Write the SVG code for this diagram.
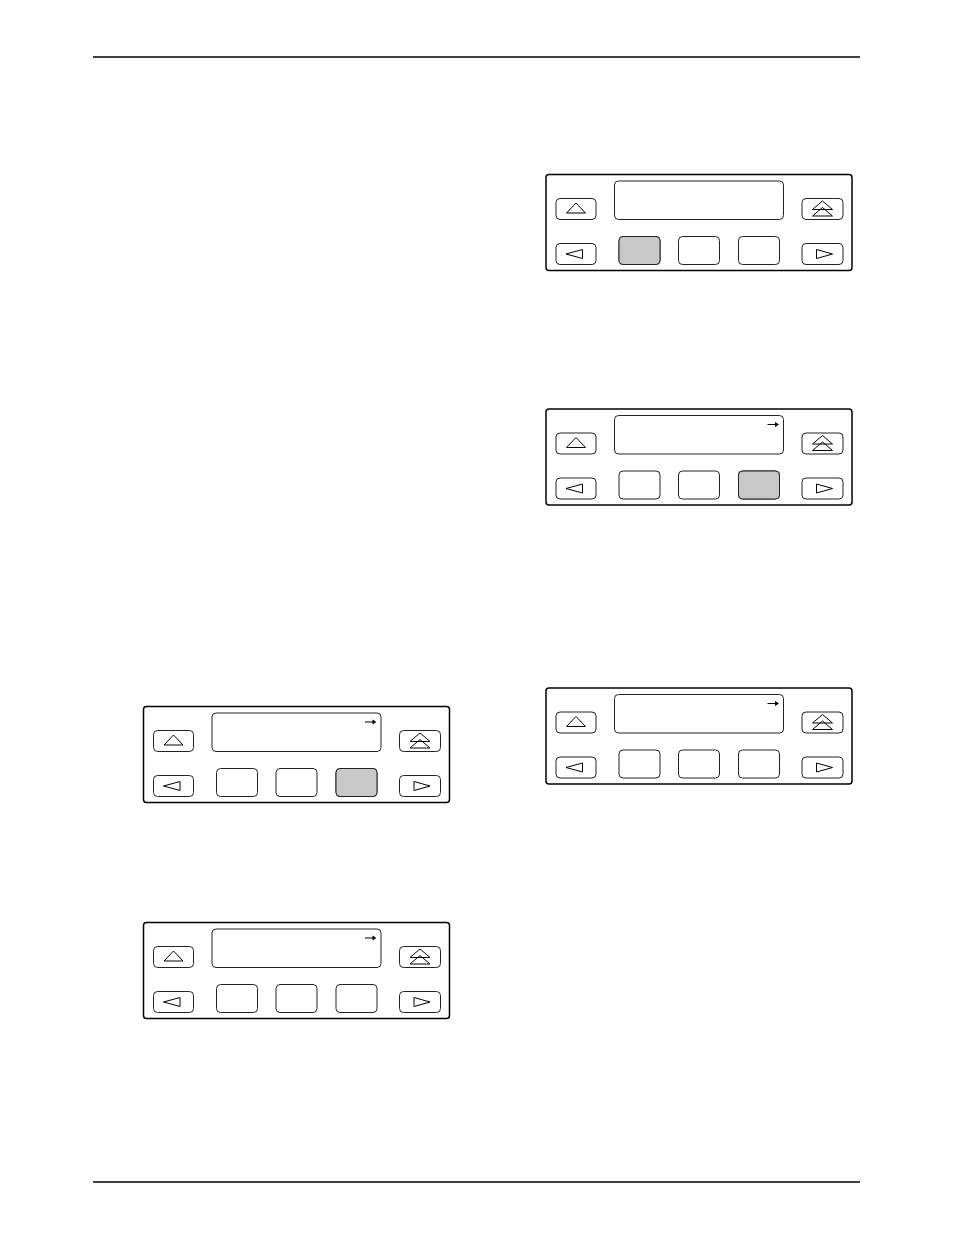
<svg xmlns="http://www.w3.org/2000/svg" xmlns:xlink="http://www.w3.org/1999/xlink" width="954" height="1235" viewBox="0 0 954 1235">
<style>
.bg{fill:#fff}
.outer{fill:#fff;stroke:#000;stroke-width:1.5}
.inner{fill:#fff;stroke:#222;stroke-width:1}
.hl{fill:#c8c8c8;stroke:#222;stroke-width:1}
.tri{fill:none;stroke:#000;stroke-width:1}
.rule{stroke:#000;stroke-width:1.3}
</style>
<defs>
<g id="panel">
<rect class="outer" x="0" y="0" width="306" height="96" rx="3"/>
<rect class="inner" x="68.5" y="6.5" width="169" height="38.5" rx="4"/>
<rect class="inner" x="10" y="24" width="40" height="21" rx="4"/>
<rect class="inner" x="10" y="69" width="40" height="21" rx="4"/>
<rect class="inner" x="256" y="24" width="41" height="21" rx="4"/>
<rect class="inner" x="256" y="69" width="41" height="21" rx="4"/>
<path class="tri" d="M20.5,38.5 L30,28.5 L39.5,38.5 Z"/>
<path class="tri" d="M266.5,35 L276.5,26.5 L286.5,35 Z M266.5,41.5 L276.5,33 L286.5,41.5 Z"/>
<path class="tri" d="M20,79.5 L36.5,75 L36.5,84 Z"/>
<path class="tri" d="M270.5,75 L286.5,79.5 L270.5,84 Z"/>
</g>
<g id="keys">
<rect class="inner" x="73" y="62" width="41" height="28" rx="4"/>
<rect class="inner" x="132.5" y="62" width="41" height="28" rx="4"/>
<rect class="inner" x="192.5" y="62" width="41" height="28" rx="4"/>
</g>
<g id="arrow">
<path d="M221.5,15.5 H230" stroke="#000" stroke-width="1" fill="none"/>
<path d="M229,13 L233,15.5 L229,18 Z" fill="#000"/>
</g>
</defs>
<rect class="bg" x="0" y="0" width="954" height="1235"/>
<g id="rules">
<line class="rule" x1="93" y1="57" x2="860" y2="57"/>
<line class="rule" x1="93" y1="1182" x2="860" y2="1182"/>
</g>
<g id="panel1" transform="translate(546,174.5)">
<use xlink:href="#panel"/>
<use xlink:href="#keys"/>
<rect class="hl" x="73" y="62" width="41" height="28" rx="4"/>
</g>
<g id="panel2" transform="translate(546,409)">
<use xlink:href="#panel"/>
<use xlink:href="#keys"/>
<use xlink:href="#arrow"/>
<rect class="hl" x="192.5" y="62" width="41" height="28" rx="4"/>
</g>
<g id="panel3" transform="translate(143.5,706.5)">
<use xlink:href="#panel"/>
<use xlink:href="#keys"/>
<use xlink:href="#arrow"/>
<rect class="hl" x="192.5" y="62" width="41" height="28" rx="4"/>
</g>
<g id="panel4" transform="translate(143.5,922.5)">
<use xlink:href="#panel"/>
<use xlink:href="#keys"/>
<use xlink:href="#arrow"/>
</g>
<g id="panel5" transform="translate(546,688)">
<use xlink:href="#panel"/>
<use xlink:href="#keys"/>
<use xlink:href="#arrow"/>
</g>
<g id="connectors"/>
</svg>
